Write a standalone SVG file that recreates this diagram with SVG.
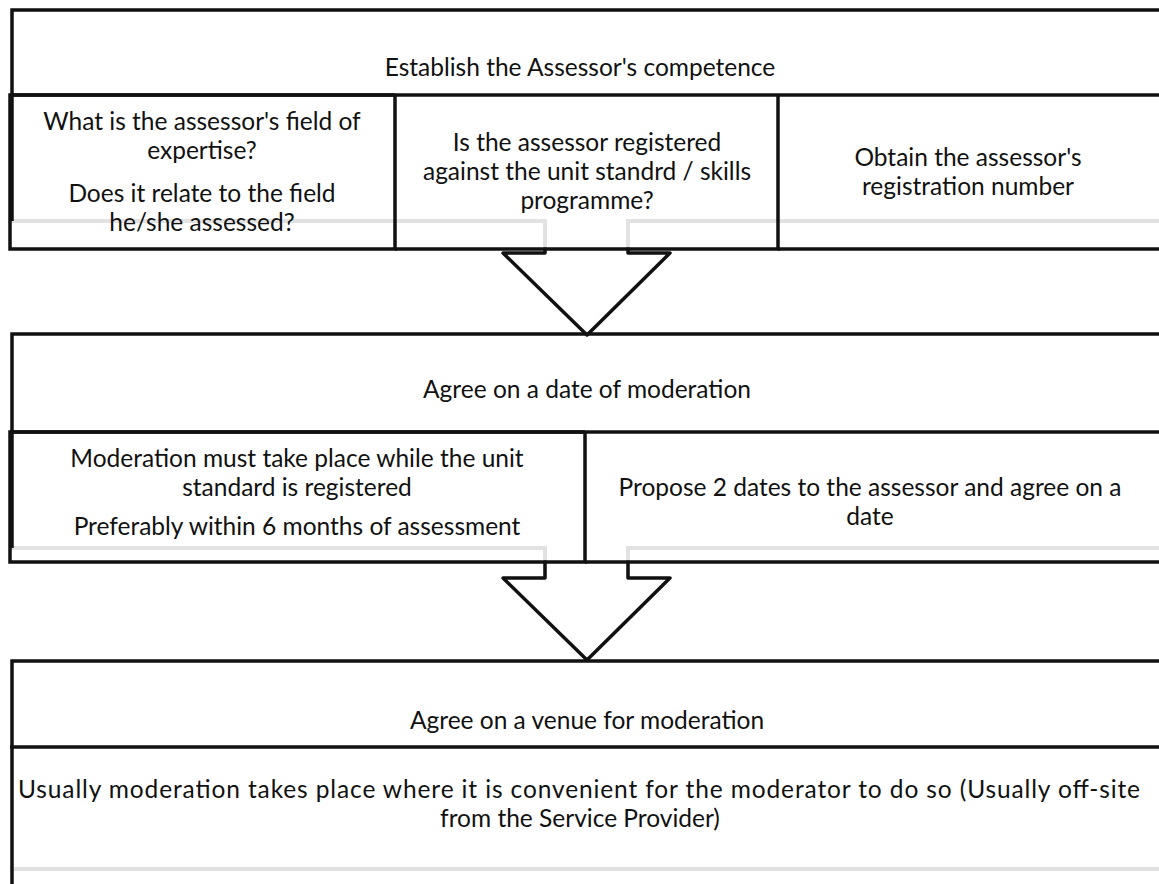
<svg xmlns="http://www.w3.org/2000/svg" width="1159" height="884" viewBox="0 0 1159 884">
  <style>
    .frame { fill: none; stroke: #111; stroke-width: 3.5; }
    .shade { fill: none; stroke: #e2e2e2; stroke-width: 4; }
    .arrow { fill: none; stroke: #111; stroke-width: 3.5; stroke-linejoin: round; stroke-linecap: round; }
    text { font-family: Lato, "Open Sans", sans-serif; font-size: 24.5px; fill: #111; text-anchor: middle; }
  </style>
  <rect width="1159" height="884" fill="#fff"/>

  <!-- grey shading lines behind the frames -->
  <g id="shading">
    <polyline class="shade" points="8,221 545,221 545,252"/>
    <polyline class="shade" points="628,252 628,221 1159,221"/>
    <polyline class="shade" points="10,548 545,548 545,578"/>
    <polyline class="shade" points="628,578 628,548 1159,548"/>
    <polyline class="shade" points="10,869 1159,869"/>
  </g>

  <g id="step1">
    <polyline class="frame" points="1160,10 12,10 12,221"/>
    <line class="frame" x1="10" y1="95" x2="1160" y2="95"/>
    <text x="580" y="76">Establish the Assessor's competence</text>
  </g>
  <g id="step1-field">
    <polyline class="frame" points="395,95 10,95 10,249 395,249 395,95"/>
    <text x="202" y="130">What is the assessor's field of</text>
    <text x="202" y="159">expertise?</text>
    <text x="202" y="202">Does it relate to the field</text>
    <text x="202" y="231">he/she assessed?</text>
  </g>
  <g id="step1-registered">
    <polyline class="frame" points="395,249 778,249 778,95"/>
    <text x="587" y="151">Is the assessor registered</text>
    <text x="587" y="180">against the unit standrd / skills</text>
    <text x="587" y="209">programme?</text>
  </g>
  <g id="step1-number">
    <polyline class="frame" points="778,249 1160,249"/>
    <text x="968" y="166">Obtain the assessor's</text>
    <text x="968" y="195">registration number</text>
  </g>

  <g id="step2">
    <polyline class="frame" points="1160,334 12,334 12,548"/>
    <line class="frame" x1="10" y1="432" x2="1160" y2="432"/>
    <text x="587" y="398">Agree on a date of moderation</text>
  </g>
  <g id="step2-window">
    <polyline class="frame" points="585,432 10,432 10,562 585,562 585,432"/>
    <text x="297" y="467">Moderation must take place while the unit</text>
    <text x="297" y="496">standard is registered</text>
    <text x="297" y="535">Preferably within 6 months of assessment</text>
  </g>
  <g id="step2-propose">
    <polyline class="frame" points="585,562 1160,562"/>
    <text x="870" y="496">Propose 2 dates to the assessor and agree on a</text>
    <text x="870" y="525">date</text>
  </g>

  <g id="step3">
    <polyline class="frame" points="1160,661 12,661 12,884"/>
    <line class="frame" x1="10" y1="747" x2="1160" y2="747"/>
    <text x="587" y="729">Agree on a venue for moderation</text>
    <text x="579" y="798" textLength="1122" lengthAdjust="spacing">Usually moderation takes place where it is convenient for the moderator to do so (Usually off-site</text>
    <text x="580" y="827">from the Service Provider)</text>
  </g>

  <!-- block arrows between the steps -->
  <g id="connectors">
    <polyline class="arrow" points="545,249 545,253 503,253 587,335 670,253 628,253 628,249"/>
    <polyline class="arrow" points="545,562 545,578 503,578 587,660 670,578 628,578 628,562"/>
  </g>
</svg>
